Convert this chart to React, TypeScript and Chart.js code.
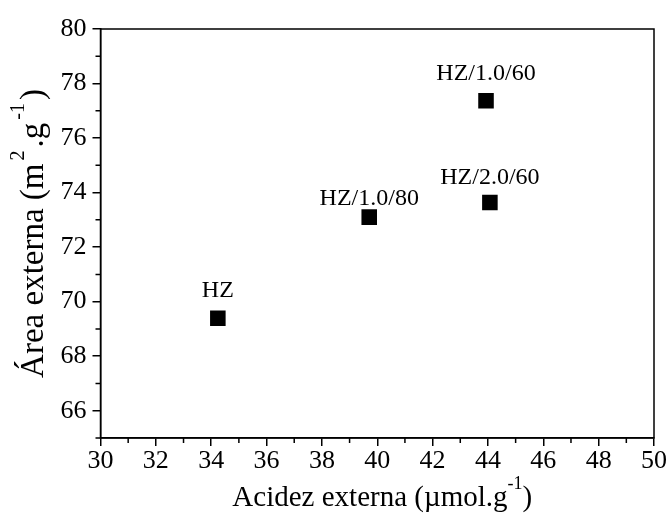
import React, { useEffect, useRef } from "react";
import { Chart, registerables } from "chart.js";

Chart.register(...registerables);

// ---- data ----
const sampleLabels = ["HZ", "HZ/1.0/80", "HZ/1.0/60", "HZ/2.0/60"];
const acidezExterna = [34.24, 39.71, 43.93, 44.07];
const areaExterna = [69.39, 73.1, 77.37, 73.64];

const xTickValues = [30, 32, 34, 36, 38, 40, 42, 44, 46, 48, 50];
const xMinorTickValues = [31, 33, 35, 37, 39, 41, 43, 45, 47, 49];
const yTickValues = [66, 68, 70, 72, 74, 76, 78, 80];
const yMinorTickValues = [65, 67, 69, 71, 73, 75, 77, 79];

const xAxisMin = 30;
const xAxisMax = 50;
const yAxisMin = 65;
const yAxisMax = 80;

// label offsets above each marker (pixels), separate from the data
const labelLift = [21, 12, 21, 18];

const FONT = "'Liberation Serif', 'Times New Roman', serif";

type Part = { t: string; sup?: boolean };

const framePlugin = {
  id: "frameAndMinor",
  afterDraw(chart: any) {
    const ctx = chart.ctx;
    const xs = chart.scales.x;
    const ys = chart.scales.y;
    const a = chart.chartArea;
    ctx.save();
    ctx.strokeStyle = "#000";
    ctx.lineWidth = 1.5;
    ctx.beginPath();
    for (const v of xMinorTickValues) {
      const px = xs.getPixelForValue(v);
      ctx.moveTo(px, a.bottom);
      ctx.lineTo(px, a.bottom + 5);
    }
    for (const v of yMinorTickValues) {
      const py = ys.getPixelForValue(v);
      ctx.moveTo(a.left, py);
      ctx.lineTo(a.left - 5, py);
    }
    ctx.stroke();
    ctx.strokeRect(a.left, a.top, a.right - a.left, a.bottom - a.top);

    ctx.fillStyle = "#000";
    ctx.textBaseline = "alphabetic";
    ctx.textAlign = "left";
    const drawParts = (
      parts: Part[],
      cx: number,
      baseY: number,
      bigSize: number,
      smallSize: number,
      raise: number,
      gap: number
    ) => {
      const big = `${bigSize}px ${FONT}`;
      const small = `${smallSize}px ${FONT}`;
      let total = 0;
      const widths = parts.map((p) => {
        ctx.font = p.sup ? small : big;
        const w = ctx.measureText(p.t).width + (p.sup ? gap * 2 : 0);
        total += w;
        return w;
      });
      let x = cx - total / 2;
      parts.forEach((p, i) => {
        ctx.font = p.sup ? small : big;
        ctx.fillText(p.t, p.sup ? x + gap : x, p.sup ? baseY - raise : baseY);
        x += widths[i];
      });
    };
    const cxArea = (a.left + a.right) / 2;
    drawParts(
      [{ t: "Acidez externa (µmol.g" }, { t: "-1", sup: true }, { t: ")" }],
      cxArea + 5,
      506,
      29,
      18,
      17,
      0
    );
    ctx.save();
    ctx.translate(43, (a.top + a.bottom) / 2);
    ctx.rotate(-Math.PI / 2);
    drawParts(
      [{ t: "Área externa (m" }, { t: "2", sup: true }, { t: ".g" }, { t: "-1", sup: true }, { t: ")" }],
      0,
      0,
      33,
      20,
      19,
      3
    );
    ctx.restore();
    ctx.restore();
  },
  afterDatasetsDraw(chart: any) {
    const ctx = chart.ctx;
    const meta = chart.getDatasetMeta(0);
    ctx.save();
    ctx.fillStyle = "#000";
    ctx.font = `24px ${FONT}`;
    ctx.textAlign = "center";
    ctx.textBaseline = "alphabetic";
    meta.data.forEach((pt: any, i: number) => {
      ctx.fillText(sampleLabels[i], pt.x, pt.y - labelLift[i]);
    });
    ctx.restore();
  },
};

export default function App() {
  const ref = useRef<HTMLCanvasElement | null>(null);
  useEffect(() => {
    if (!ref.current) return;
    const chart = new Chart(ref.current, {
      type: "scatter",
      data: {
        datasets: [
          {
            label: "Área externa",
            data: acidezExterna.map((x, i) => ({ x, y: areaExterna[i] })),
            pointStyle: "rect",
            pointRadius: 11,
            pointHoverRadius: 11,
            backgroundColor: "#000",
            borderColor: "#000",
            borderWidth: 0,
          },
        ],
      },
      options: {
        responsive: false,
        animation: false,
        layout: { padding: { top: 29, right: 14, left: 0, bottom: 0 } },
        plugins: { legend: { display: false }, tooltip: { enabled: false } },
        scales: {
          x: {
            type: "linear",
            min: xAxisMin,
            max: xAxisMax,
            afterBuildTicks: (s: any) => {
              s.ticks = xTickValues.map((v) => ({ value: v }));
            },
            afterFit: (s: any) => {
              s.height = 76;
            },
            grid: {
              display: true,
              drawOnChartArea: false,
              drawTicks: true,
              tickLength: 8,
              color: "#000",
              lineWidth: 1.5,
            },
            border: { display: true, color: "#000", width: 1.5 },
            ticks: {
              color: "#000",
              font: { family: FONT, size: 26 },
              padding: 0,
              maxRotation: 0,
              autoSkip: false,
            },
          },
          y: {
            type: "linear",
            min: yAxisMin,
            max: yAxisMax,
            afterBuildTicks: (s: any) => {
              s.ticks = yTickValues.map((v) => ({ value: v }));
            },
            afterFit: (s: any) => {
              s.width = 100.5;
            },
            grid: {
              display: true,
              drawOnChartArea: false,
              drawTicks: true,
              tickLength: 8,
              color: "#000",
              lineWidth: 1.5,
            },
            border: { display: true, color: "#000", width: 1.5 },
            ticks: {
              color: "#000",
              font: { family: FONT, size: 26 },
              padding: 6,
              autoSkip: false,
            },
          },
        },
      },
      plugins: [framePlugin],
    } as any);
    return () => chart.destroy();
  }, []);
  return (
    <div style={{ position: "absolute", left: 0, top: 0, width: 668, height: 514, background: "#fff" }}>
      <canvas ref={ref} width={668} height={514} style={{ display: "block" }} />
    </div>
  );
}
